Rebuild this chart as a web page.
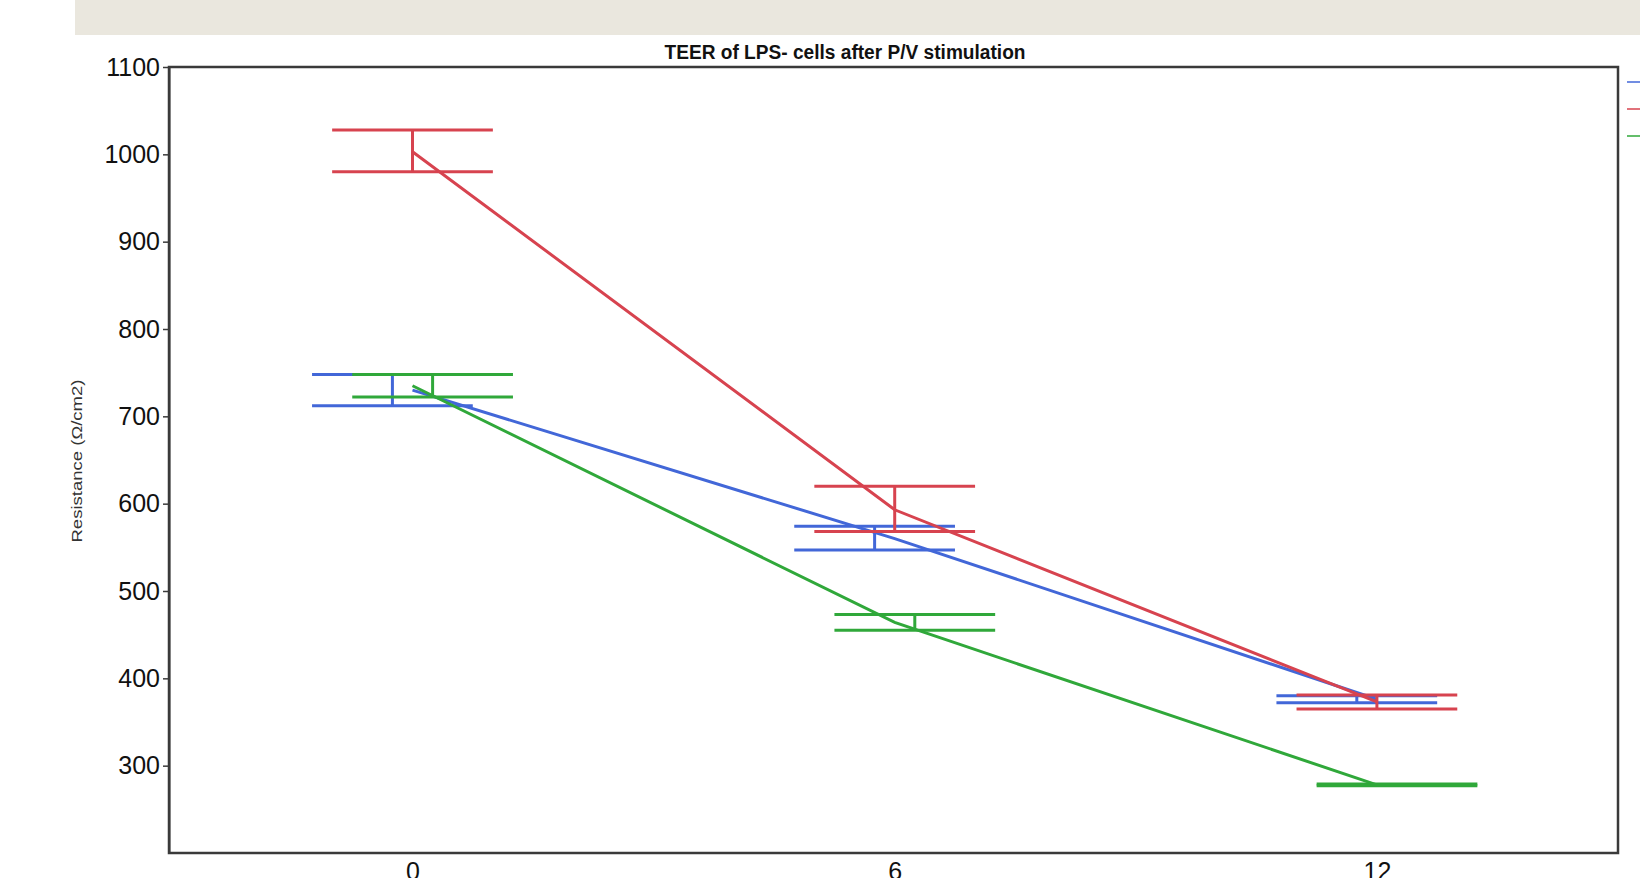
<!DOCTYPE html>
<html>
<head>
<meta charset="utf-8">
<script src="https://cdn.jsdelivr.net/npm/d3@7"></script>
<style>
	html, body { margin: 0; padding: 0; background: #ffffff; overflow: hidden; }
	svg { display: block; font-family: "Liberation Sans", Arial, sans-serif; }
</style>
</head>
<body>
<div id="chart"></div>
<script>
// chart values
const times = [0, 6, 12];
const seriesNames = ["Group 1", "Group 2", "Group 3"];
const seriesColors = ["#4267d8", "#d7434f", "#30a83a"];
const blueMean = [730, 560, 376];
const blueLower = [712, 547, 372];
const blueUpper = [748, 574, 380];
const redMean = [1003, 593, 373];
const redLower = [980, 568, 365];
const redUpper = [1028, 620, 381];
const greenMean = [735, 464, 278];
const greenLower = [722, 455, 277];
const greenUpper = [748, 473, 279];
const yTicks = [300, 400, 500, 600, 700, 800, 900, 1000, 1100];
const titleText = "TEER of LPS- cells after P/V stimulation";
const yLabel = "Resistance (\u03A9/cm2)";

const series = [
	{ name: seriesNames[0], color: seriesColors[0], mean: blueMean, lower: blueLower, upper: blueUpper, dodge: -0.25 },
	{ name: seriesNames[1], color: seriesColors[1], mean: redMean, lower: redLower, upper: redUpper, dodge: 0 },
	{ name: seriesNames[2], color: seriesColors[2], mean: greenMean, lower: greenLower, upper: greenUpper, dodge: 0.25 }
];

const width = 1640;
const height = 878;
const margin = { left: 169, right: 22, top: 67, bottom: 25 };
const markWidth = 3;

const svg = d3
	.select("#chart")
	.append("svg")
	.attr("width", width)
	.attr("height", height)
	.attr("viewBox", `0 0 ${width} ${height}`);

//grey banner at the top of the slide
svg
	.append("rect")
	.attr("x", 75)
	.attr("y", 0)
	.attr("width", width - 75)
	.attr("height", 35)
	.attr("fill", "#eae7de");

const x = d3
	.scaleLinear()
	.domain([-3.03, 15])
	.range([margin.left, width - margin.right]);

const y = d3
	.scaleLinear()
	.domain([200, 1100])
	.range([height - margin.bottom, margin.top]);

const [xMin, xMax] = x.domain();

// frame
svg
	.append("rect")
	.attr("x", x(xMin))
	.attr("y", y(1100))
	.attr("width", x(xMax) - x(xMin))
	.attr("height", y(200) - y(1100))
	.attr("fill", "none")
	.attr("stroke", "#3a3a3a")
	.attr("stroke-width", 2.5);

const yAxis = svg
	.append("g")
	.attr("transform", `translate(${x(xMin)},0)`)
	.call(
		d3
			.axisLeft(y)
			.tickValues(yTicks)
			.tickFormat(d3.format("d"))
			.tickSize(6)
			.tickSizeOuter(0)
			.tickPadding(3)
	);

yAxis.select(".domain").attr("stroke", "#3a3a3a").attr("stroke-width", 2);
yAxis.selectAll(".tick line").attr("stroke", "#3a3a3a").attr("stroke-width", 1.5);
yAxis
	.selectAll(".tick text")
	.attr("font-size", 25)
	.attr("font-family", "Liberation Sans, Arial, sans-serif")
	.attr("fill", "#111");

const xAxis = svg
	.append("g")
	.attr("transform", `translate(0,${y(200)})`)
	.call(
		d3
			.axisBottom(x)
			.tickValues(times)
			.tickSize(0)
			.tickPadding(9)
	);

xAxis.select(".domain").remove();
xAxis
	.selectAll(".tick text")
	.attr("font-size", 25)
	.attr("font-family", "Liberation Sans, Arial, sans-serif")
	.attr("fill", "#111");

// title
svg
	.append("text")
	.attr("x", 845)
	.attr("y", 59)
	.attr("text-anchor", "middle")
	.attr("font-size", 20)
	.attr("font-weight", "bold")
	.attr("fill", "#111")
	.attr("textLength", 361)
	.attr("lengthAdjust", "spacingAndGlyphs")
	.text(titleText);

// y label
svg
	.append("text")
	.attr("transform", "translate(82,461) rotate(-90)")
	.attr("text-anchor", "middle")
	.attr("font-size", 15)
	.attr("fill", "#333")
	.attr("textLength", 163)
	.attr("lengthAdjust", "spacingAndGlyphs")
	.text(yLabel);

const line = d3
	.line()
	.x(d => x(d.t))
	.y(d => y(d.v));

const plot = svg.append("g").attr("class", "plot-area");

series.forEach(s => {
	const pts = times.map((t, i) => ({ t, v: s.mean[i], lo: s.lower[i], hi: s.upper[i] }));

	const g = plot.append("g").attr("class", `series-${s.name.replace(/\s/g, "")}`);

	// error bars are dodged, the mean line is not
	const bars = g
		.selectAll("g.err")
		.data(pts)
		.enter()
		.append("g")
		.attr("class", "err");

	bars
		.append("line")
		.attr("x1", d => x(d.t + s.dodge))
		.attr("x2", d => x(d.t + s.dodge))
		.attr("y1", d => y(d.lo))
		.attr("y2", d => y(d.hi))
		.attr("stroke", s.color)
		.attr("stroke-width", markWidth);

	["lo", "hi"].forEach(k => {
		bars
			.append("line")
			.attr("x1", d => x(d.t + s.dodge - 1))
			.attr("x2", d => x(d.t + s.dodge + 1))
			.attr("y1", d => y(d[k]))
			.attr("y2", d => y(d[k]))
			.attr("stroke", s.color)
			.attr("stroke-width", markWidth);
	});

	g
		.append("path")
		.datum(pts)
		.attr("d", line)
		.attr("fill", "none")
		.attr("stroke", s.color)
		.attr("stroke-width", markWidth);
});

// legend, mostly outside the picture
const legend = svg
	.append("g")
	.attr("class", "legend")
	.attr("transform", "translate(1627,82)");

legend
	.selectAll("line")
	.data(series)
	.enter()
	.append("line")
	.attr("x1", 0)
	.attr("x2", 30)
	.attr("y1", (d, i) => i * 27)
	.attr("y2", (d, i) => i * 27)
	.attr("stroke", d => d.color)
	.attr("stroke-width", 1.5);
</script>
</body>
</html>
